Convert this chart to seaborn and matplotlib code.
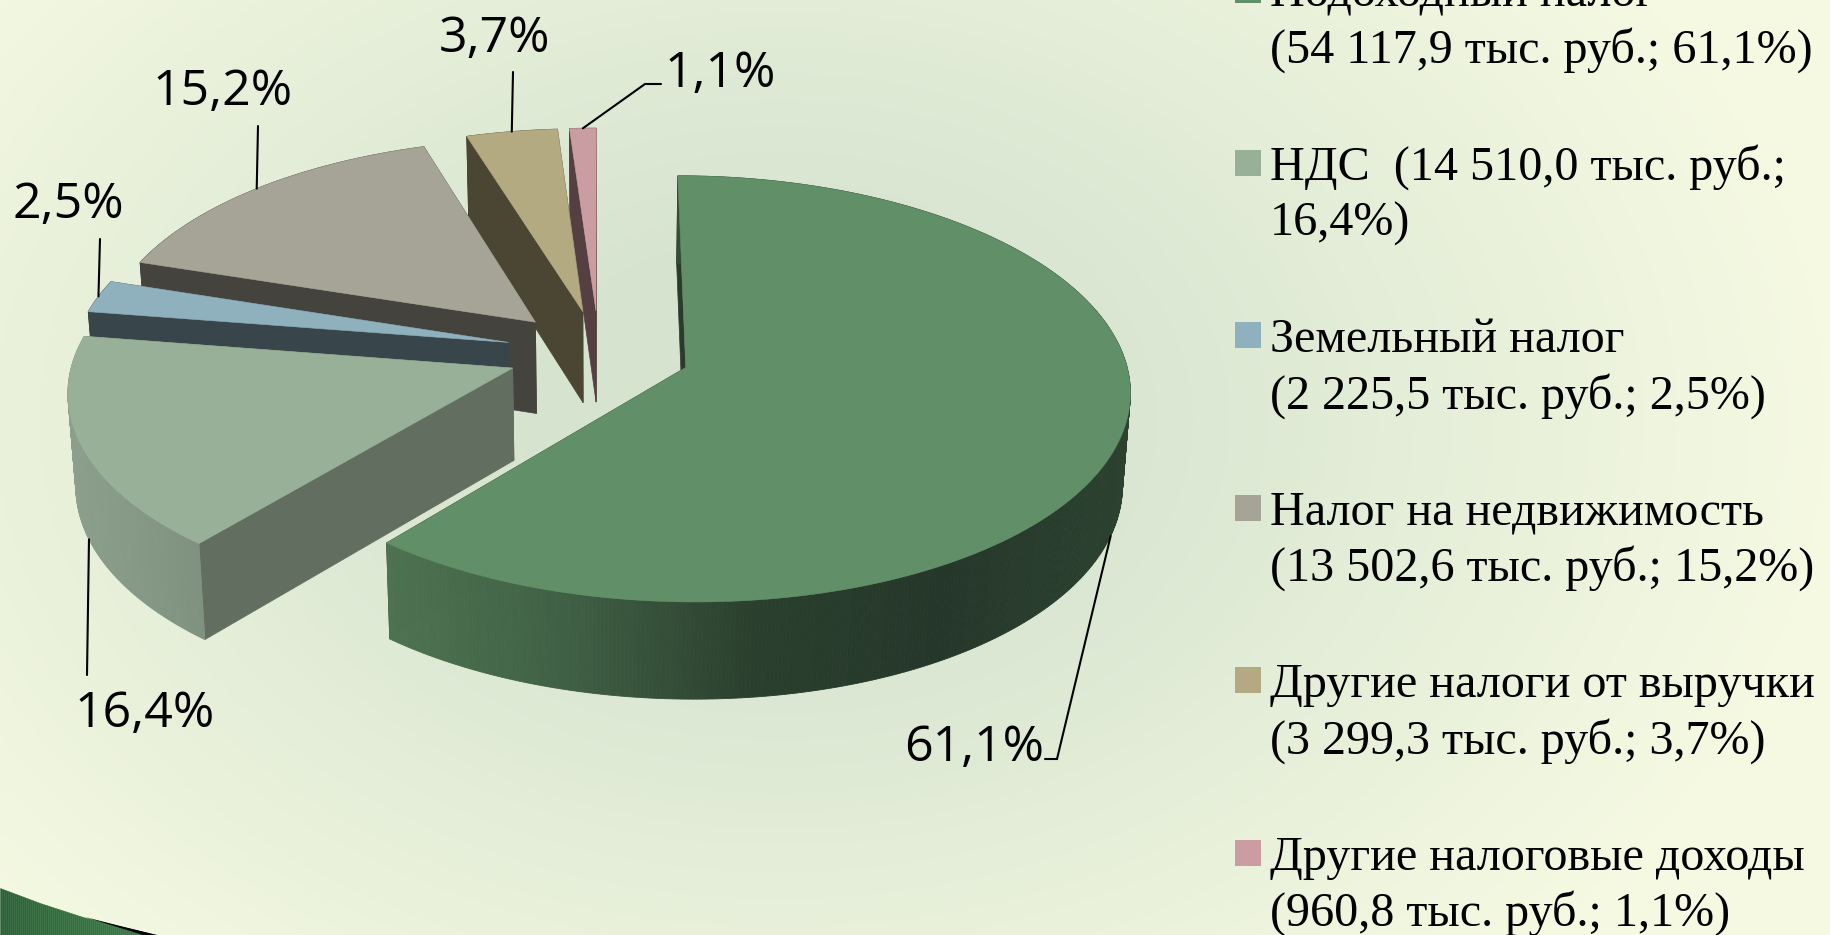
import numpy as np
import seaborn as sns
import matplotlib.pyplot as plt
from matplotlib.patches import Polygon, Rectangle

# Tax income split, thousand roubles (clockwise from 12 o'clock)
tax_names = ['Подоходный налог', 'НДС', 'Земельный налог', 'Налог на недвижимость',
             'Другие налоги от выручки', 'Другие налоговые доходы']
tax_values = [54117.9, 14510.0, 2225.5, 13502.6, 3299.3, 960.8]
pct_labels = ['61,1%', '16,4%', '2,5%', '15,2%', '3,7%', '1,1%']
legend_line1 = ['Подоходный налог', 'НДС  (14 510,0 тыс. руб.;', 'Земельный налог',
                'Налог на недвижимость', 'Другие налоги от выручки', 'Другие налоговые доходы']
legend_line2 = ['(54 117,9 тыс. руб.; 61,1%)', '16,4%)', '(2 225,5 тыс. руб.; 2,5%)',
                '(13 502,6 тыс. руб.; 15,2%)', '(3 299,3 тыс. руб.; 3,7%)', '(960,8 тыс. руб.; 1,1%)']

top_colors = ['#618f67', '#98b097', '#8fb1bd', '#a6a497', '#b3aa82', '#c99da1']
face_colors = ['#293c2c', '#626f60', '#38464c', '#45433d', '#4a4633', '#553f42']
wall_stops = [['#4e7352', '#3f5f44', '#2a3f2d', '#25372a', '#2c4130'],
              ['#8b9f8c', '#869986', '#7f917f'],
              ['#38464c', '#38464c'], ['#45433d', '#45433d'],
              ['#4a4633', '#4a4633'], ['#553f42', '#553f42']]

# where the percent labels sit, with the leader's bend points after the rim
label_xy = [(974, 748), (145, 714), (68, 205), (223, 92), (495, 39), (720, 74)]
leader_ends = [[(1057, 759), (1045, 759)], [(87, 675)], [(100, 239)], [(258, 126)],
               [(513, 72)], [(645, 84), (661, 84)]]
leader_low = [True, True, False, False, False, False]

# projection of the tilted pie, in output pixels
OX, OY = 599.0, 352.6
RX, RY = 440.5, 209.0
KP = 0.10
DEPTH = 92.0
SHRINK = 0.985
explode = [0.208, 0.208, 0.212, 0.208, 0.203, 0.203]
rim_scale = [0.995, 0.995, 0.988, 0.99, 1.0, 1.0]

sns.set_theme(style='white')
plt.rcParams['font.family'] = ['Open Sans', 'DejaVu Sans']


def project(u, v):
    den = 1 - KP * v
    return OX + RX * u / den, OY + RY * v / den


def project_low(u, v):
    x, y = project(u, v)
    return OX + (x - OX) * SHRINK, y + DEPTH / (1 - 0.05 * v)


def stack(a, b):
    return np.column_stack([a, b])


fig = plt.figure(figsize=(18.31, 9.35), dpi=100)
ax = fig.add_axes([0, 0, 1, 1])

# slide background
yy, xx = np.mgrid[0:935:240j, 0:1831:480j]
dist = np.hypot((xx - 780) / 1050, (yy - 420) / 750)
bg_cmap = sns.blend_palette(['#d3e2cf', '#d7e4d0', '#e0ebd6', '#ebf2dc', '#f5f9e2'], as_cmap=True)
ax.imshow(dist, extent=[0, 1831, 935, 0], cmap=bg_cmap, vmin=0, vmax=1,
          aspect='auto', zorder=0, interpolation='bilinear')
ax.set_xlim(0, 1831)
ax.set_ylim(935, 0)
ax.axis('off')

shares = np.array(tax_values) / np.sum(tax_values) * 2 * np.pi
ends = np.cumsum(shares)
starts = ends - shares
mids = (starts + ends) / 2
off_u = np.array(explode) * np.sin(mids)
off_v = -np.array(explode) * np.cos(mids)

z = 1
for i in [5, 4, 3, 2, 1, 0]:
    th = np.linspace(starts[i], ends[i], max(int(shares[i] * 120), 12))
    rim_u = off_u[i] + rim_scale[i] * np.sin(th)
    rim_v = off_v[i] - rim_scale[i] * np.cos(th)
    top = stack(*project(rim_u, rim_v))
    low = stack(*project_low(rim_u, rim_v))
    apex_t = np.array(project(off_u[i], off_v[i]))
    apex_l = np.array(project_low(off_u[i], off_v[i]))

    # the two cut faces
    for k in [0, -1]:
        ax.add_patch(Polygon([apex_t, top[k], low[k], apex_l], fc=face_colors[i], ec=face_colors[i],
                             lw=0.5, zorder=z))
    # outer wall, shaded left to right
    cmap = sns.blend_palette(wall_stops[i], as_cmap=True)
    x_min, x_max = top[:, 0].min(), top[:, 0].max()
    for k in range(len(th) - 1):
        t = (top[k, 0] - x_min) / max(x_max - x_min, 1)
        col = cmap(t)
        ax.add_patch(Polygon([top[k], top[k + 1], low[k + 1], low[k]], fc=col, ec=col, lw=0.6, zorder=z))
    # top surface
    ax.add_patch(Polygon(np.vstack([apex_t, top]), fc=top_colors[i], ec=top_colors[i], lw=0.4, zorder=z + 1))
    z += 2

    # leader line from the middle of the rim
    mid_u, mid_v = off_u[i] + rim_scale[i] * np.sin(mids[i]), off_v[i] - rim_scale[i] * np.cos(mids[i])
    start = project_low(mid_u, mid_v) if leader_low[i] else project(mid_u, mid_v)
    pts = np.array([start] + leader_ends[i])
    ax.plot(pts[:, 0], pts[:, 1], color='black', lw=1.5, zorder=30, solid_joinstyle='miter')
    ax.text(label_xy[i][0], label_xy[i][1], pct_labels[i], fontsize=36, color='black',
            ha='center', va='center', zorder=31)

# legend column
for i in range(6):
    y0 = 7 + 172.6 * i
    ax.add_patch(Rectangle((1235, y0 - 30), 26, 26, fc=top_colors[i], ec='none', zorder=5))
    ax.text(1270, y0, legend_line1[i], fontsize=34.7, family='Liberation Serif', va='baseline', color='black')
    ax.text(1270, y0 + 56, legend_line2[i], fontsize=34.7, family='Liberation Serif', va='baseline', color='black')

# corner decoration of the slide, drawn as thin vertical strips
corner_cmap = sns.blend_palette(['#2c6037', '#33703f', '#3b7d4a'], as_cmap=True)
strip_x = np.arange(0, 158, 2.0)
strip_y = np.interp(strip_x, [0, 40, 83, 120, 157], [888, 903, 917, 926, 935])
for k in range(len(strip_x) - 1):
    ax.fill_between(strip_x[k:k + 2], strip_y[k:k + 2], 935, color=corner_cmap(strip_x[k] / 157),
                    lw=0.3, zorder=6)
ax.add_patch(Polygon([(85, 917), (120, 926), (157, 935), (143, 935)], fc='black', ec='none', zorder=7))

fig.savefig('out.png', dpi=100)
